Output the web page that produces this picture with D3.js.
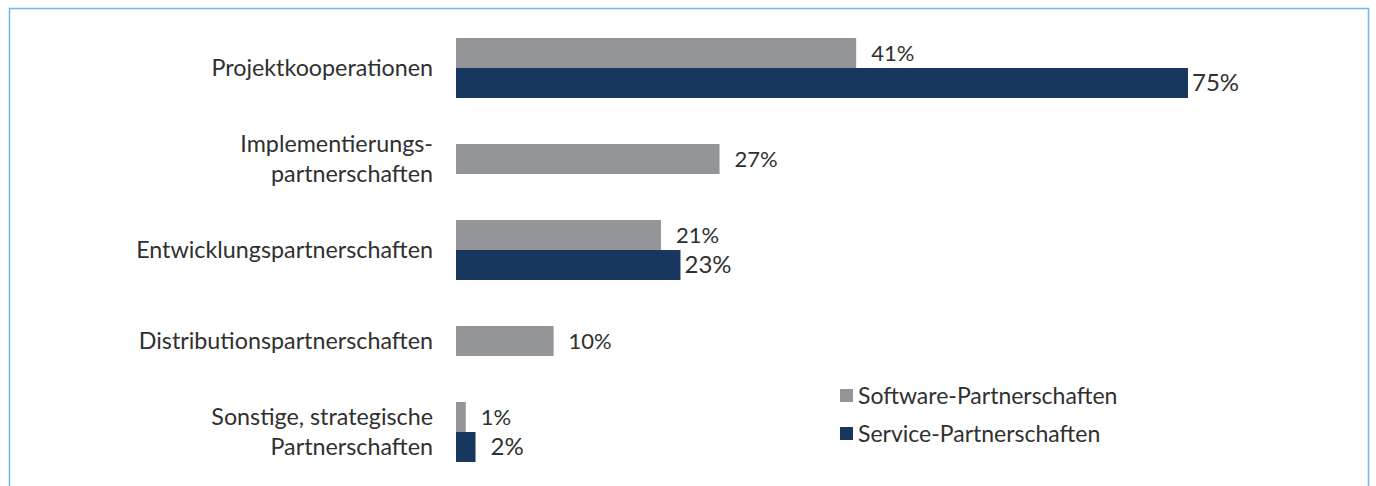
<!DOCTYPE html>
<html>
<head>
<meta charset="utf-8">
<script src="https://cdn.jsdelivr.net/npm/d3@7"></script>
<style>
  html, body { margin: 0; padding: 0; background: #fff; }
  svg { display: block; }
</style>
</head>
<body>
<svg id="chart" width="1376" height="486"></svg>
<script>
// Partnership types (label lines) and shares in percent
const categories = [
  ["Projektkooperationen"],
  ["Implementierungs-", "partnerschaften"],
  ["Entwicklungspartnerschaften"],
  ["Distributionspartnerschaften"],
  ["Sonstige, strategische", "Partnerschaften"]
];
const softwareValues = [41, 27, 21, 10, 1];
const serviceValues = [75, null, 23, null, 2];
const seriesNames = ["Software-Partnerschaften", "Service-Partnerschaften"];
const seriesColors = ["#939598", "#18375e"];

const svg = d3.select("#chart");
const font = "Lato, 'Open Sans', sans-serif";
const ink = "#303030";

// Panel frame
svg.append("path")
  .attr("d", "M9.5,486 V8.5 H1368.5 V486")
  .attr("fill", "none")
  .attr("stroke", "#7ab6e2")
  .attr("stroke-width", 1.5);

const x = d3.scaleLinear().domain([0, 75]).range([456, 1188]);
const y = d3.scaleBand()
  .domain(d3.range(categories.length))
  .range([22.5, 477.5])
  .paddingInner(0).paddingOuter(0);
const barH = 30;

const rows = categories.map((c, i) => {
  const bars = [];
  if (softwareValues[i] != null) bars.push({ s: 0, v: softwareValues[i] });
  if (serviceValues[i] != null) bars.push({ s: 1, v: serviceValues[i] });
  return { i, lines: c, bars };
});

const g = svg.append("g");
rows.forEach(r => {
  const cy = y(r.i) + y.bandwidth() / 2;
  const top = cy - barH * r.bars.length / 2;
  r.bars.forEach((b, k) => {
    const by = top + k * barH;
    g.append("rect")
      .attr("x", x(0))
      .attr("y", by)
      .attr("width", x(b.v) - x(0))
      .attr("height", barH)
      .attr("fill", seriesColors[b.s]);
    g.append("text")
      .attr("x", x(b.v) + (b.s === 0 ? 15 : (b.v < 5 ? 15 : 4)))
      .attr("y", by + barH / 2)
      .attr("dy", "0.35em")
      .attr("font-family", font)
      .attr("font-size", b.s === 0 ? 22 : 24)
      .attr("fill", ink)
      .text(b.v + "%");
  });
  // category label, right aligned left of the bars
  const lh = 30;
  const t = g.append("text")
    .attr("text-anchor", "end")
    .attr("font-family", font)
    .attr("font-size", 23.3)
    .attr("fill", ink);
  r.lines.forEach((ln, j) => {
    t.append("tspan")
      .attr("x", 433)
      .attr("y", cy + (j - (r.lines.length - 1) / 2) * lh)
      .attr("dy", "0.35em")
      .text(ln);
  });
});

// Legend
const legend = svg.append("g");
seriesNames.forEach((n, k) => {
  const ly = 396 + k * 38;
  legend.append("rect")
    .attr("x", 840).attr("y", ly - 7)
    .attr("width", 13).attr("height", 13)
    .attr("fill", seriesColors[k]);
  legend.append("text")
    .attr("x", 858).attr("y", ly)
    .attr("dy", "0.35em")
    .attr("font-family", font)
    .attr("font-size", 23)
    .attr("fill", ink)
    .text(n);
});
</script>
</body>
</html>
